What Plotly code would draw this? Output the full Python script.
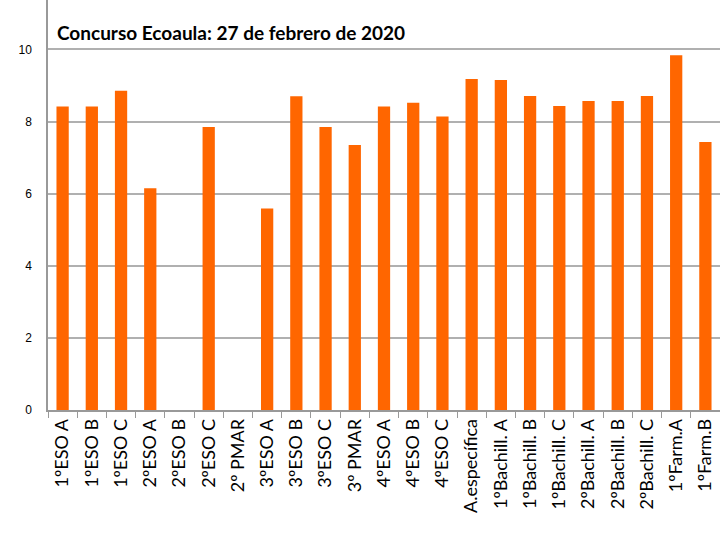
import plotly.graph_objects as go

# grupos del concurso y su nota
grupos = [
    "1ºESO A", "1ºESO B", "1ºESO C", "2ºESO A", "2ºESO B", "2ºESO C",
    "2º PMAR", "3ºESO A", "3ºESO B", "3ºESO C", "3º PMAR", "4ºESO A",
    "4ºESO B", "4ºESO C", "A.específica", "1ºBachill. A", "1ºBachill. B",
    "1ºBachill. C", "2ºBachill. A", "2ºBachill. B", "2ºBachill. C",
    "1ºFarm.A", "1ºFarm.B",
]
notas = [
    8.42, 8.42, 8.85, 6.15, 0, 7.85,
    0, 5.59, 8.7, 7.85, 7.35, 8.42,
    8.52, 8.14, 9.18, 9.15, 8.71,
    8.43, 8.57, 8.57, 8.71,
    9.84, 7.43,
]
y_ticks = [0, 2, 4, 6, 8, 10]

fig = go.Figure()

fig.add_trace(go.Bar(
    x=grupos,
    y=notas,
    marker=dict(color='#ff6600', line=dict(width=0)),
    showlegend=False,
))

fig.add_annotation(
    text="<b>Concurso Ecoaula: 27 de febrero de 2020</b>",
    xref='paper', yref='paper',
    x=0.01, y=1 - 33 / 410,
    xanchor='left', yanchor='middle',
    showarrow=False,
    font=dict(family='Lato', size=19, color='black'),
)

fig.update_layout(
    width=720,
    height=540,
    margin=dict(l=48, r=0, t=0, b=130),
    paper_bgcolor='white',
    plot_bgcolor='white',
    bargap=0.58,
    xaxis=dict(
        type='category',
        tickangle=-90,
        tickfont=dict(family='Lato', size=18, color='black'),
        ticks='outside',
        tickson='boundaries',
        ticklen=6,
        tickcolor='#999999',
        showline=True,
        linecolor='#999999',
        linewidth=1.5,
        showgrid=False,
    ),
    yaxis=dict(
        range=[0, 11.37],
        tickvals=y_ticks,
        tickfont=dict(family='Liberation Sans', size=12, color='black'),
        showgrid=True,
        gridcolor='#b0b0b0',
        gridwidth=1.5,
        showline=True,
        linecolor='#999999',
        linewidth=1.5,
        ticks='',
        zeroline=False,
        ticklabelstandoff=12,
    ),
)

# quitar el margen del body para que el grafico ocupe la ventana entera
fig.write_html(
    "out.html",
    config={'displayModeBar': False},
    post_script="document.body.style.margin = '0';",
)
